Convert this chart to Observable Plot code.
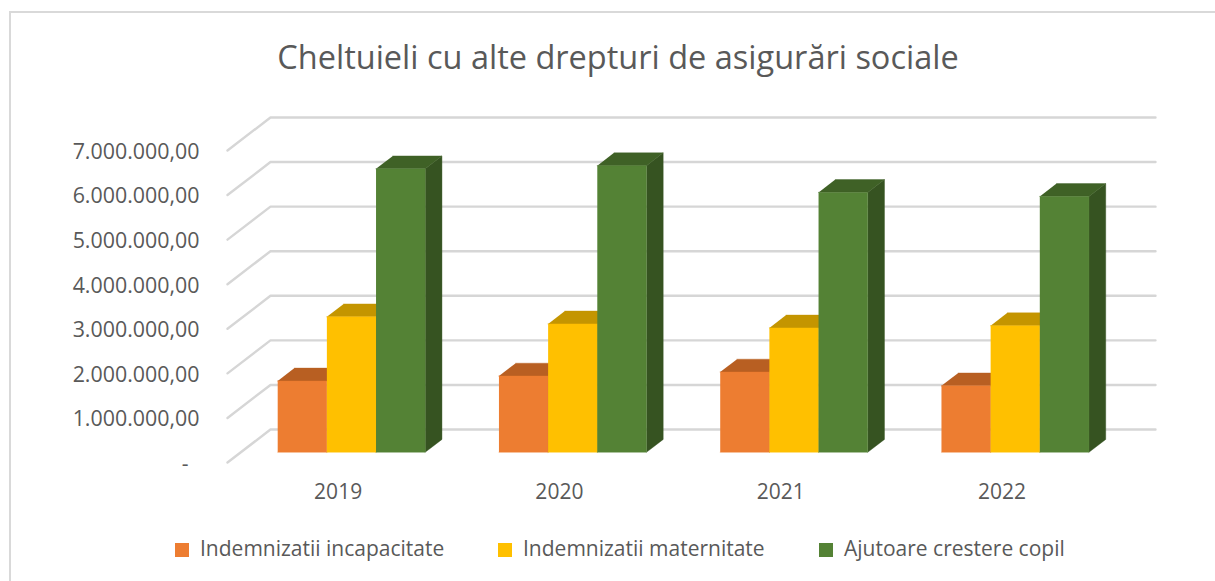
<!DOCTYPE html>
<html lang="ro">
<head>
<meta charset="utf-8">
<title>Cheltuieli cu alte drepturi de asigurări sociale</title>
<script src="https://cdn.jsdelivr.net/npm/d3@7"></script>
<script src="https://cdn.jsdelivr.net/npm/@observablehq/plot@0.6"></script>
<style>
  html, body { margin: 0; padding: 0; background: #fff; overflow: hidden; }
  #chart { position: relative; width: 1215px; height: 581px; font-family: "Open Sans", sans-serif; color: #595959; }
  #frame { position: absolute; left: 9px; top: 11px; right: -5px; bottom: -5px; border: 2px solid #d9d9d9; pointer-events: none; }
  #title { height: 105px; box-sizing: border-box; padding: 35px 0 0 21px; text-align: center; font-size: 32.5px; line-height: 44px; white-space: nowrap; }
  #plot svg { display: block; }
  #legend { position: relative; height: 56px; font-size: 21px; }
  #legend .sw { position: absolute; top: 18px; width: 14px; height: 14px; }
  #legend .tx { position: absolute; top: 9px; line-height: 28px; white-space: nowrap; }
</style>
</head>
<body>
<div id="chart">
  <div id="frame"></div>
  <div id="title">Cheltuieli cu alte drepturi de asigurări sociale</div>
  <div id="plot"></div>
  <div id="legend"></div>
</div>
<script>
const years = ["2019", "2020", "2021", "2022"];
const incapacitate = [1600000, 1710000, 1800000, 1490000];
const maternitate = [3040000, 2880000, 2790000, 2840000];
const crestere = [6360000, 6430000, 5830000, 5740000];
const seriesNames = ["Indemnizatii incapacitate", "Indemnizatii maternitate", "Ajutoare crestere copil"];
const frontColors = ["#ED7D31", "#FFC000", "#548235"];
const topColors = ["#B85F22", "#C49500", "#3F6126"];
const sideColors = ["#A65A24", "#B38600", "#365321"];
const gridValues = [0, 1000000, 2000000, 3000000, 4000000, 5000000, 6000000, 7000000];
const axisValues = gridValues.slice(1);
const seriesValues = [incapacitate, maternitate, crestere];

// Oblique projection of the chart's box: depth 0 is the front plane, depth 1 the back wall.
const barUnit = 1;                 // x scale is measured in bar widths
const categorySpan = 4.5;          // three bars and a gap of 1.5
const depthX = 0.874;              // horizontal shift of the full depth, in bar widths
const depthY = 740000;             // vertical shift of the full depth, in value units
const barDepthFront = 0.31, barDepthBack = 0.70;
const px = (u, d) => u + d * depthX;
const py = (v, d) => v + d * depthY;

const xMax = categorySpan * years.length + depthX;
const yMax = 7000000 + depthY;

// grid: back wall lines and the slanted lines on the left wall
const grid = gridValues.flatMap((v) => [
  {id: `s${v}`, x: px(0, 0), y: py(v, 0)},
  {id: `s${v}`, x: px(0, 1), y: py(v, 1)},
  {id: `s${v}`, x: px(categorySpan * years.length, 1), y: py(v, 1)}
]);

// bar faces, in painter's order
const faces = [];
years.forEach((yr, c) => {
  seriesValues.forEach((vals, s) => {
    const u0 = c * categorySpan + 0.75 + s * barUnit, u1 = u0 + barUnit;
    const v = vals[c], a = barDepthFront, b = barDepthBack;
    const poly = (name, color, pts) => pts.forEach(([u, val, d]) =>
      faces.push({id: `${yr}-${s}-${name}`, color, x: px(u, d), y: py(val, d)}));
    poly("side", sideColors[s], [[u1, 0, a], [u1, 0, b], [u1, v, b], [u1, v, a]]);
    poly("top", topColors[s], [[u0, v, a], [u1, v, a], [u1, v, b], [u0, v, b]]);
    poly("front", frontColors[s], [[u0, 0, a], [u1, 0, a], [u1, v, a], [u0, v, a]]);
  });
});

const numFmt = new Intl.NumberFormat("de-DE", {minimumFractionDigits: 2, maximumFractionDigits: 2});
const catCenters = years.map((_, i) => (i + 0.5) * categorySpan);

const chart = Plot.plot({
  width: 1215,
  height: 420,
  marginLeft: 227,
  marginRight: 60,
  marginTop: 12,
  marginBottom: 63,
  style: {fontFamily: '"Open Sans", sans-serif', fontSize: "21px", color: "#595959", background: "transparent", overflow: "visible"},
  x: {domain: [0, xMax], axis: null},
  y: {domain: [0, yMax], axis: null},
  color: {type: "identity"},
  marks: [
    Plot.line(grid, {x: "x", y: "y", z: "id", stroke: "#d6d6d6", strokeWidth: 2.4, strokeLinejoin: "miter"}),
    Plot.line(faces, {x: "x", y: "y", z: "id", fill: "color", stroke: "color", strokeWidth: 0.4}),
    Plot.axisY({ticks: axisValues, tickSize: 0, tickPadding: 28, dy: 1.5, fontSize: 21.4, tickFormat: (d) => numFmt.format(d), label: null, fill: "#595959"}),
    Plot.text([0], {x: () => 0, y: (d) => d, text: () => "-", dx: -39, dy: 1.5, textAnchor: "end", fill: "#595959"}),
    Plot.axisX({ticks: catCenters, tickSize: 0, tickPadding: 22, tickFormat: (d) => years[catCenters.indexOf(d)], label: null, fill: "#595959"})
  ]
});
document.getElementById("plot").appendChild(chart);

const swatchLeft = [175, 498, 819];
const textLeft = [200, 523, 844];
const legend = document.getElementById("legend");
seriesNames.forEach((name, i) => {
  const sw = document.createElement("span");
  sw.className = "sw"; sw.style.left = swatchLeft[i] + "px"; sw.style.background = frontColors[i];
  const tx = document.createElement("span");
  tx.className = "tx"; tx.style.left = textLeft[i] + "px"; tx.textContent = name;
  legend.append(sw, tx);
});
</script>
</body>
</html>
